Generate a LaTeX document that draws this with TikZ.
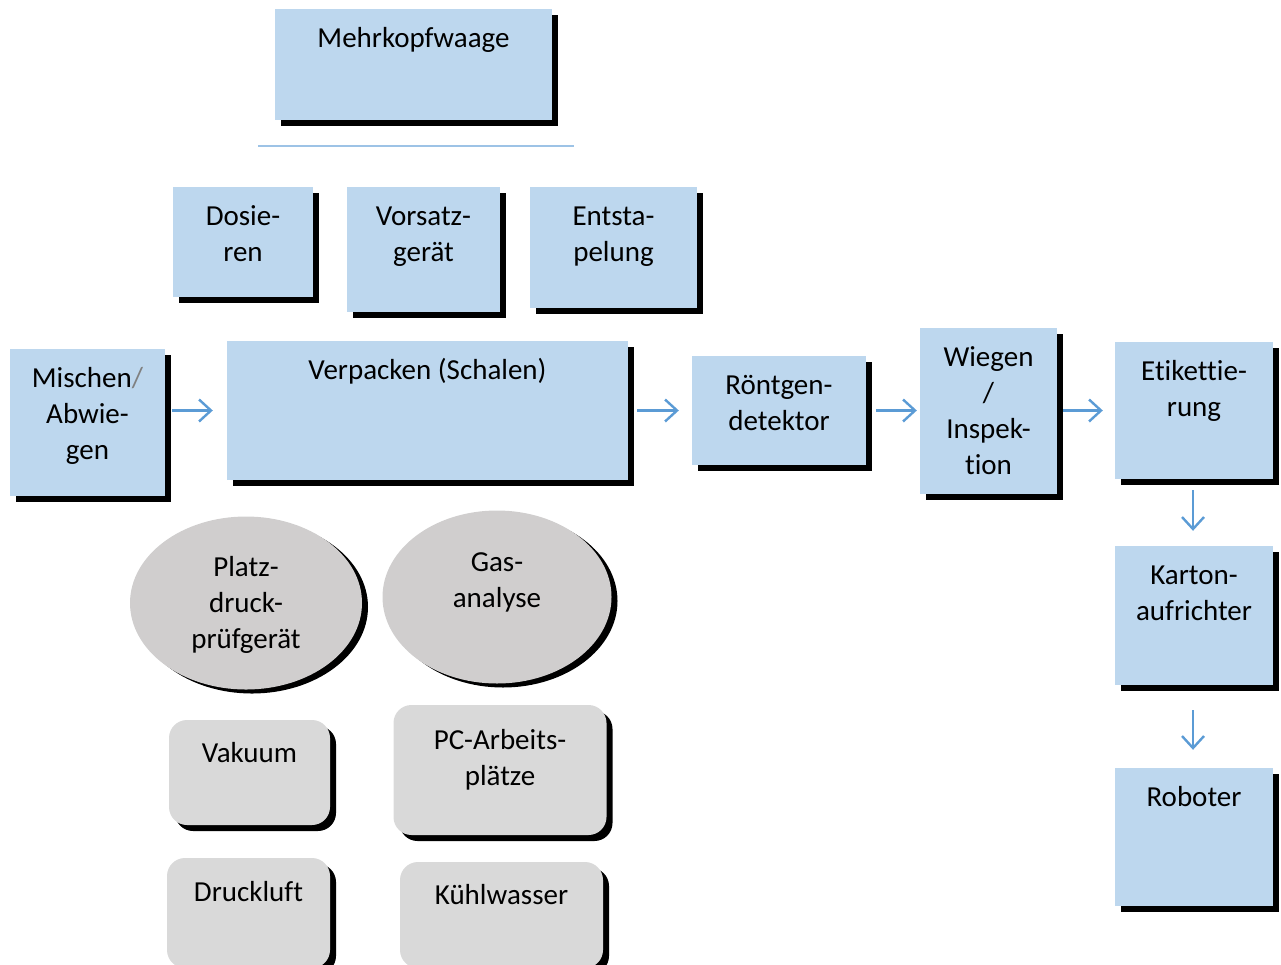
\documentclass[tikz,border=0pt]{standalone}
\usepackage{fontspec}
\setmainfont{Carlito}[Ligatures=NoCommon]
\usetikzlibrary{shapes.geometric,shadows,arrows.meta}
\definecolor{boxblue}{HTML}{BDD7EE}
\definecolor{ellgrey}{HTML}{D0CECE}
\definecolor{rrgrey}{HTML}{D9D9D9}
\definecolor{arrblue}{HTML}{5B9BD5}
\definecolor{lineblue}{HTML}{9DC3E6}
\definecolor{slashgrey}{HTML}{808080}
\begin{document}
\begin{tikzpicture}[x=1pt,y=-1pt,font=\fontsize{29}{36}\selectfont,
  shad/.style={drop shadow={shadow xshift=6pt,shadow yshift=-6pt,fill=black,opacity=1}},
  bbox/.style={rectangle,fill=boxblue,draw=none,inner sep=0,shad},
  ellbox/.style={ellipse,fill=ellgrey,draw=none,inner sep=0,
    drop shadow={shadow xshift=6pt,shadow yshift=-4pt,fill=black,opacity=1}},
  rrbox/.style={rectangle,rounded corners=18pt,fill=rrgrey,draw=none,inner sep=0,shad},
  txt/.style={anchor=north,inner sep=0,align=center,text=black},
  arr/.style={draw=arrblue,line width=2.4pt,-{Straight Barb[length=12pt,width=22pt,line width=2.4pt]}}]
\useasboundingbox (0,0) rectangle (1281,964);

% top
\node[bbox,minimum width=277pt,minimum height=111pt] (mehr) at (413.5,64.5) {};
\node[txt] (tmehr) at ([yshift=-13pt]mehr.north) {\strut Mehrkopfwaage};
\coordinate (l1) at (258,146);
\coordinate (l2) at (574,146);
\draw[lineblue,line width=2pt] (l1) -- (l2);

\node[bbox,minimum width=140pt,minimum height=110pt] (dos) at (243,242) {};
\node[txt] (tdos) at ([yshift=-13pt]dos.north) {\strut Dosie-\\ren};
\node[bbox,minimum width=153pt,minimum height=125pt] (vor) at (423.5,249.5) {};
\node[txt] (tvor) at ([yshift=-13pt]vor.north) {\strut Vorsatz-\\gerät};
\node[bbox,minimum width=167pt,minimum height=121pt] (ent) at (613.5,247.5) {};
\node[txt] (tent) at ([yshift=-13pt]ent.north) {\strut Entsta-\\pelung};

% main row
\node[bbox,minimum width=155pt,minimum height=147pt] (misch) at (87.5,422.5) {};
\node[txt] (tmisch) at ([yshift=-13pt]misch.north) {\strut Mischen{\color{slashgrey}/}\\Abwie-\\gen};
\node[bbox,minimum width=401pt,minimum height=139pt] (verp) at (427.5,410.5) {};
\node[txt] (tverp) at ([yshift=-13pt]verp.north) {\strut Verpacken (Schalen)};
\node[bbox,minimum width=174pt,minimum height=109pt] (roent) at (779,410.5) {};
\node[txt] (troent) at ([yshift=-13pt]roent.north) {\strut Röntgen-\\detektor};
\node[bbox,minimum width=137pt,minimum height=166pt] (wieg) at (988.5,411) {};
\node[txt] (twieg) at ([yshift=-13pt]wieg.north) {\strut Wiegen\\/\\Inspek-\\tion};
\node[bbox,minimum width=158pt,minimum height=137pt] (etik) at (1194,410.5) {};
\node[txt] (tetik) at ([yshift=-13pt]etik.north) {\strut Etikettie-\\rung};
\node[bbox,minimum width=158pt,minimum height=139pt] (kart) at (1194,615.5) {};
\node[txt] (tkart) at ([yshift=-13pt]kart.north) {\strut Karton-\\aufrichter};
\node[bbox,minimum width=158pt,minimum height=138pt] (robo) at (1194,837) {};
\node[txt] (trobo) at ([yshift=-13pt]robo.north) {\strut Roboter};

% ellipses
\node[ellbox,minimum width=232pt,minimum height=173pt] (platz) at (246,603) {};
\node[txt] (tplatz) at (246,551) {\strut Platz-\\druck-\\prüfgerät};
\node[ellbox,minimum width=229pt,minimum height=173pt] (gas) at (497,597) {};
\node[txt] (tgas) at (497,546) {\strut Gas-\\analyse};

% rounded boxes
\node[rrbox,minimum width=161pt,minimum height=105pt] (vak) at (249.5,772.5) {};
\node[txt] (tvak) at ([yshift=-17pt]vak.north) {\strut Vakuum};
\node[rrbox,minimum width=213pt,minimum height=130pt] (pc) at (500,770) {};
\node[txt] (tpc) at ([yshift=-19pt]pc.north) {\strut PC-Arbeits-\\plätze};
\node[rrbox,minimum width=163pt,minimum height=110pt] (druck) at (248.5,913) {};
\node[txt] (tdruck) at ([yshift=-18pt]druck.north) {\strut Druckluft};
\node[rrbox,minimum width=203pt,minimum height=106pt] (kuehl) at (501.5,915) {};
\node[txt] (tkuehl) at ([yshift=-17pt]kuehl.north) {\strut Kühlwasser};

% arrows
\draw[arr,shorten <=7pt,shorten >=14pt] (misch.east |- verp.west) -- (verp.west);
\draw[arr,shorten <=9pt,shorten >=13pt] (verp.east) -- (roent.west);
\draw[arr,shorten <=10pt,shorten >=3pt] (roent.east) -- (wieg.west |- roent.east);
\draw[arr,shorten <=6pt,shorten >=12pt] (wieg.east |- etik.west) -- (etik.west);
\draw[arr,shorten <=11pt,shorten >=15pt] ([xshift=-1pt]etik.south) -- ([xshift=-1pt]kart.north);
\draw[arr,shorten <=25pt,shorten >=18pt] ([xshift=-1pt]kart.south) -- ([xshift=-1pt]robo.north);
\end{tikzpicture}
\end{document}
